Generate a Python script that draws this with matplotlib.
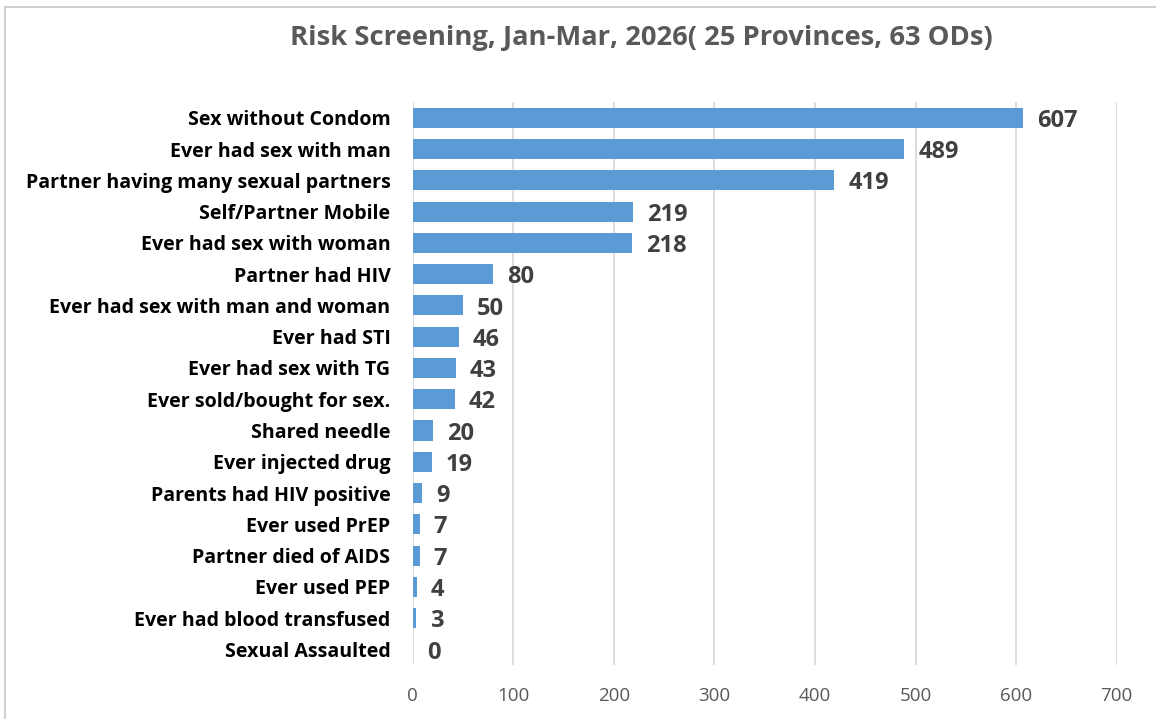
import matplotlib

matplotlib.use("Agg")
import matplotlib.pyplot as plt
from matplotlib.patches import Rectangle

categories = [
    "Sex without Condom",
    "Ever had sex with man",
    "Partner having many sexual partners",
    "Self/Partner Mobile",
    "Ever had sex with woman",
    "Partner had HIV",
    "Ever had sex with man and woman",
    "Ever had STI",
    "Ever had sex with TG",
    "Ever sold/bought for sex.",
    "Shared needle",
    "Ever injected drug",
    "Parents had HIV positive",
    "Ever used PrEP",
    "Partner died of AIDS",
    "Ever used PEP",
    "Ever had blood transfused",
    "Sexual Assaulted",
]
counts = [607, 489, 419, 219, 218, 80, 50, 46, 43, 42, 20, 19, 9, 7, 7, 4, 3, 0]
x_ticks = [0, 100, 200, 300, 400, 500, 600, 700]

plt.rcParams["font.family"] = ["Open Sans", "DejaVu Sans"]

fig = plt.figure(figsize=(11.56, 7.19), dpi=100)
ax = fig.add_axes([0.357, 0.075, 0.609, 0.783])

y_pos = list(range(len(categories)))
ax.barh(y_pos, counts, height=0.64, color="#5B9BD5", zorder=3)
ax.set_ylim(len(categories) - 0.5, -0.5)
ax.set_xlim(0, 700)
ax.set_xticks(x_ticks)
ax.set_yticks(y_pos)
ax.set_yticklabels(categories, fontsize=14.1, fontweight="bold", color="black")
ax.tick_params(axis="y", length=0, pad=16)
ax.tick_params(axis="x", length=0, pad=16, labelsize=13.5, labelcolor="#595959")
ax.grid(axis="x", color="#D9D9D9", linewidth=1.3, zorder=0)
for side in ["top", "right", "bottom", "left"]:
    ax.spines[side].set_visible(False)

for y, v in zip(y_pos, counts):
    ax.text(v + 14, y + 0.1, str(v), va="center", ha="left",
            fontsize=17, fontweight="bold", color="#404040")

fig.text(0.555, 0.947, "Risk Screening, Jan-Mar, 2026( 25 Provinces, 63 ODs)",
         ha="center", va="center", fontsize=19.7, fontweight="bold", color="#595959")

fig.patches.append(Rectangle((0.004, -0.01), 1.5, 1.0, transform=fig.transFigure,
                             fill=False, edgecolor="#D0D0D0", linewidth=1.5))

fig.savefig("out.png", dpi=100)
